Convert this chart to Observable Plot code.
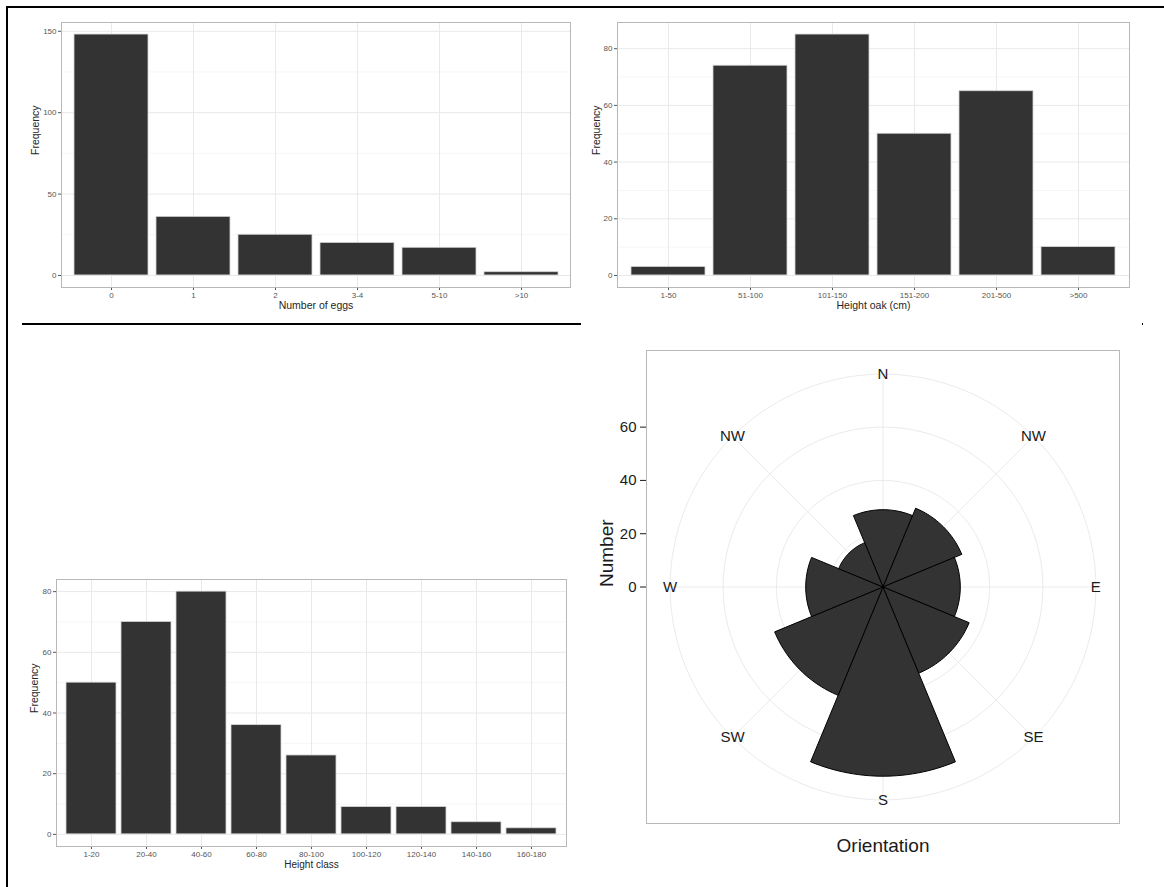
<!DOCTYPE html>
<html><head><meta charset="utf-8">
<script src="https://cdn.jsdelivr.net/npm/d3@7"></script>
<script src="https://cdn.jsdelivr.net/npm/@observablehq/plot@0.6"></script>
<style>
html,body{margin:0;padding:0;background:#fff;}
#root{position:relative;width:1164px;height:887px;overflow:hidden;font-family:"Liberation Sans",Arial,sans-serif;background:#fff;}
.panel{position:absolute;}
.bline{position:absolute;background:#000;}
</style></head><body><div id="root"></div>
<script>
// ---------- data ----------
const eggCats = ["0", "1", "2", "3-4", "5-10", ">10"];
const eggFreq = [148, 36, 25, 20, 17, 2];
const eggTicks = [0, 50, 100, 150];
const eggMinor = [25, 75, 125];

const oakCats = ["1-50", "51-100", "101-150", "151-200", "201-500", ">500"];
const oakFreq = [3, 74, 85, 50, 65, 10];
const oakTicks = [0, 20, 40, 60, 80];
const oakMinor = [10, 30, 50, 70];

const classCats = ["1-20", "20-40", "40-60", "60-80", "80-100", "100-120", "120-140", "140-160", "160-180"];
const classFreq = [50, 70, 80, 36, 26, 9, 9, 4, 2];
const classTicks = [0, 20, 40, 60, 80];
const classMinor = [10, 30, 50, 70];

const dirLabels = ["N", "NW", "E", "SE", "S", "SW", "W", "NW"];
const dirCounts = [29, 32, 29, 35, 71, 44, 29, 18];
const numberTicks = [0, 20, 40, 60];

// ---------- helpers ----------
const FONT = "'Liberation Sans', Arial, sans-serif";
const root = document.getElementById("root");
function place(node, left, top) {
  const wrap = document.createElement("div");
  wrap.className = "panel";
  wrap.style.left = left + "px";
  wrap.style.top = top + "px";
  wrap.appendChild(node);
  root.appendChild(wrap);
}

function barPanel(cats, vals, yTicks, yMinor, xTitle, pos) {
  const data = cats.map((c, i) => ({cat: c, val: vals[i]}));
  const max = d3.max(vals);
  return Plot.plot({
    width: pos.w, height: pos.h,
    marginLeft: pos.ml, marginRight: pos.mr, marginTop: pos.mt, marginBottom: pos.mb,
    style: {fontFamily: FONT, fontSize: "8px", color: "#555555", background: "transparent", overflow: "visible"},
    x: {domain: cats, paddingInner: 0.1, paddingOuter: 0.15, align: 0.5, label: null, tickSize: 3, tickPadding: 2},
    y: {domain: [-0.05 * max, 1.05 * max], ticks: yTicks, label: null, tickSize: 3, tickPadding: 2},
    marks: [
      Plot.ruleY(yMinor, {stroke: "#f6f6f6"}),
      Plot.ruleY(yTicks, {stroke: "#e9e9e9"}),
      Plot.ruleX(cats, {stroke: "#e9e9e9"}),
      Plot.barY(data, {x: "cat", y: "val", fill: "#333333", stroke: "#d4d4d4", strokeWidth: 0.8}),
      Plot.frame({stroke: "#b8b8b8"}),
      Plot.text([xTitle], {text: d => d, frameAnchor: "bottom", dy: pos.xtdy, fontSize: pos.tfs, fill: "#262626"}),
      Plot.text(["Frequency"], {text: d => d, frameAnchor: "left", dx: pos.ytdx, rotate: -90, fontSize: 10.5, fill: "#262626"})
    ]
  });
}

// ---------- panel 1 ----------
place(barPanel(eggCats, eggFreq, eggTicks, eggMinor, "Number of eggs",
  {w: 580, h: 320, ml: 61, mr: 10, mt: 22, mb: 33, xtdy: 21, ytdx: -26, tfs: 10.5}), 0, 0);

// ---------- panel 2 ----------
place(barPanel(oakCats, oakFreq, oakTicks, oakMinor, "Height oak (cm)",
  {w: 584, h: 320, ml: 37, mr: 35, mt: 22, mb: 33, xtdy: 21, ytdx: -21, tfs: 10.5}), 580, 0);

// ---------- panel 3 ----------
place(barPanel(classCats, classFreq, classTicks, classMinor, "Height class",
  {w: 580, h: 327, ml: 56, mr: 14, mt: 19, mb: 41, xtdy: 21.5, ytdx: -22, tfs: 10}), 0, 560);

// ---------- panel 4 (polar) ----------
const R = d3.max(dirCounts);          // maximum maps to 0.4 of the panel
const half = R * 0.5 / 0.4;            // half panel in data units
const Rout = R * 0.45 / 0.4;           // outer ring / label radius
const stepDeg = 360 / dirLabels.length;
const rad = a => a * Math.PI / 180;
const dirIdx = dirLabels.map((_, i) => i);

const sectorPts = [];
dirCounts.forEach((v, i) => {
  const a0 = i * stepDeg - stepDeg / 2, a1 = i * stepDeg + stepDeg / 2;
  sectorPts.push({k: i, x: 0, y: 0});
  for (let j = 0; j <= 30; j++) {
    const a = rad(a0 + (a1 - a0) * j / 30);
    sectorPts.push({k: i, x: v * Math.sin(a), y: v * Math.cos(a)});
  }
  sectorPts.push({k: i, x: 0, y: 0});
});

const ringRadii = numberTicks.filter(t => t > 0).concat([Rout]);
const ringPts = [];
ringRadii.forEach((r, k) => {
  for (let j = 0; j <= 180; j++) {
    const a = rad(j * 2);
    ringPts.push({k, x: r * Math.sin(a), y: r * Math.cos(a)});
  }
});

const polar = Plot.plot({
  width: 584, height: 557,
  marginLeft: 66, marginRight: 45, marginTop: 20, marginBottom: 64,
  style: {fontFamily: FONT, fontSize: "15px", color: "#1a1a1a", background: "transparent", overflow: "visible"},
  x: {domain: [-half, half], axis: null},
  y: {domain: [-half, half], ticks: numberTicks, tickSize: 6, tickPadding: 4, label: null},
  marks: [
    Plot.line(ringPts, {x: "x", y: "y", z: "k", stroke: "#ebebeb", strokeWidth: 1}),
    Plot.link(dirIdx, {x1: () => 0, y1: () => 0,
      x2: i => Rout * Math.sin(rad(i * stepDeg)), y2: i => Rout * Math.cos(rad(i * stepDeg)),
      stroke: "#ebebeb", strokeWidth: 1}),
    Plot.line(sectorPts, {x: "x", y: "y", z: "k", fill: "#333333", stroke: "#000", strokeWidth: 1, strokeLinejoin: "miter"}),
    Plot.text(dirIdx, {x: i => Rout * Math.sin(rad(i * stepDeg)), y: i => Rout * Math.cos(rad(i * stepDeg)),
      text: i => dirLabels[i], fontSize: 15, fill: "#1a1a1a"}),
    Plot.frame({stroke: "#b8b8b8"}),
    Plot.text(["Orientation"], {text: d => d, frameAnchor: "bottom", dy: 28, fontSize: 19, fill: "#1a1a1a"}),
    Plot.text(["Number"], {text: d => d, frameAnchor: "left", dx: -40, rotate: -90, fontSize: 19, fill: "#1a1a1a"})
  ]
});
place(polar, 580, 330);

// ---------- black frame lines of the composite figure ----------
function bline(l, t, w, h) {
  const d = document.createElement("div");
  d.className = "bline";
  Object.assign(d.style, {left: l + "px", top: t + "px", width: w + "px", height: h + "px"});
  root.appendChild(d);
}
bline(6, 6, 1158, 2);
bline(6, 6, 2, 881);
bline(22, 323, 559, 2);
bline(1142, 323, 1, 2);
</script></body></html>
